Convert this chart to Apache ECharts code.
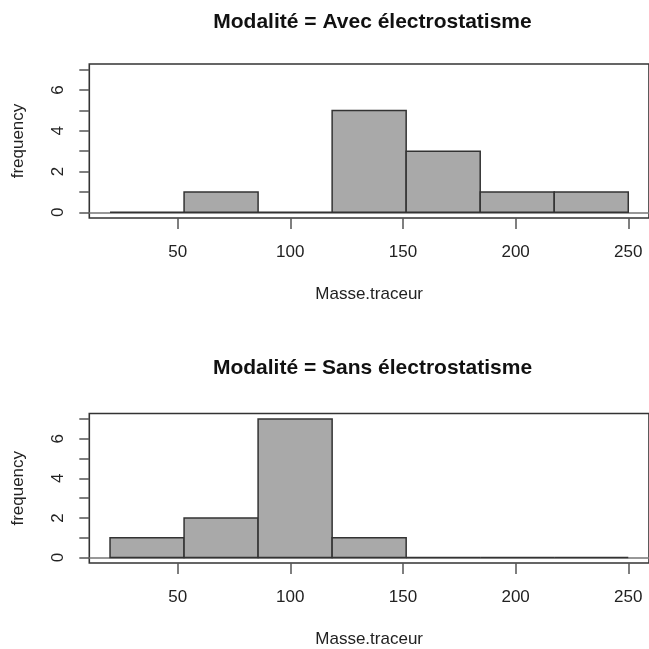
<!DOCTYPE html>
<html>
<head>
<meta charset="utf-8">
<script src="https://cdn.jsdelivr.net/npm/echarts@6/dist/echarts.min.js"></script>
<style>
html,body{margin:0;padding:0;background:#fff;}
#chart{width:649px;height:649px;}
</style>
</head>
<body>
<div id="chart"></div>
<script>
// ---- data ----
const breaks = [20, 52.86, 85.71, 118.57, 151.43, 184.29, 217.14, 250];
const countsAvec = [0, 1, 0, 5, 3, 1, 1];
const countsSans = [1, 2, 7, 1, 0, 0, 0];
const panelTitles = ['Modalité = Avec électrostatisme', 'Modalité = Sans électrostatisme'];
const xTicks = [50, 100, 150, 200, 250];
const yTicks = [0, 1, 2, 3, 4, 5, 6, 7];
const yLabels = [0, 2, 4, 6];
const xName = 'Masse.traceur';
const yName = 'frequency';

// ---- build ----
const FONT = '"Liberation Sans", Arial, sans-serif';
const panels = [countsAvec, countsSans];
const gridTops = [64, 413.5];
const titleY = [21.8, 368.4];
const X_MIN = 10.8, X_MAX = 259.2, Y_MIN = -0.28, Y_MAX = 7.28;

function histData(counts) {
  return counts.map((c, i) => [breaks[i], breaks[i + 1], c]);
}

const grids = [], xAxes = [], yAxes = [], series = [], graphics = [];
panels.forEach((counts, k) => {
  grids.push({
    left: 89.3, right: -7, top: gridTops[k], height: 154,
    show: true, borderColor: '#333', borderWidth: 1.6, backgroundColor: 'transparent'
  });
  // main x axis (ticks, labels, name)
  xAxes.push({
    type: 'value', gridIndex: k, min: X_MIN, max: X_MAX, position: 'bottom',
    axisLine: { show: false, onZero: false },
    axisTick: { show: true, length: 11, customValues: xTicks, lineStyle: { color: '#555', width: 1.5 } },
    axisLabel: { customValues: xTicks, fontSize: 17, fontFamily: FONT, color: '#222', margin: 26 },
    splitLine: { show: false },
    name: xName, nameLocation: 'middle', nameGap: 68,
    nameTextStyle: { fontSize: 17, fontFamily: FONT, color: '#222' }
  });
  yAxes.push({
    type: 'value', gridIndex: k, min: Y_MIN, max: Y_MAX,
    axisLine: { show: false },
    axisTick: { show: true, length: 10, customValues: yTicks, lineStyle: { color: '#555', width: 1.5 } },
    axisLabel: { customValues: yLabels, rotate: 90, fontSize: 17, fontFamily: FONT, color: '#222', margin: 22 },
    splitLine: { show: false },
    name: yName, nameLocation: 'middle', nameGap: 62, nameRotate: 90,
    nameTextStyle: { fontSize: 17, fontFamily: FONT, color: '#222' }
  });
  series.push({
    type: 'custom', xAxisIndex: 2 * k, yAxisIndex: k,
    data: histData(counts),
    encode: { x: [0, 1], y: 2 },
    renderItem: function (params, api) {
      const p0 = api.coord([api.value(0), api.value(2)]);
      const p1 = api.coord([api.value(1), 0]);
      return {
        type: 'rect',
        shape: { x: p0[0], y: p0[1], width: p1[0] - p0[0], height: p1[1] - p0[1] },
        style: { fill: '#a9a9a9', stroke: '#333', lineWidth: 1.5 }
      };
    },
    z: 3
  });
  graphics.push({
    type: 'text', x: 372.5, y: titleY[k],
    style: {
      text: panelTitles[k], fill: '#111',
      font: 'bold 21px ' + FONT, align: 'center', verticalAlign: 'middle'
    }
  });
});
// baseline axes (line at frequency 0 spanning the whole panel)
panels.forEach((counts, k) => {
  xAxes.splice(2 * k + 1, 0, {
    type: 'value', gridIndex: k, min: X_MIN, max: X_MAX, position: 'top',
    axisLine: { show: true, onZero: true, onZeroAxisIndex: k, lineStyle: { color: '#777', width: 1.5 } },
    axisTick: { show: false }, axisLabel: { show: false }, splitLine: { show: false }
  });
});

const chart = echarts.init(document.getElementById('chart'), null, { renderer: 'canvas' });
chart.setOption({
  animation: false,
  backgroundColor: '#fff',
  grid: grids,
  xAxis: xAxes,
  yAxis: yAxes,
  series: series,
  graphic: graphics
});
</script>
</body>
</html>
